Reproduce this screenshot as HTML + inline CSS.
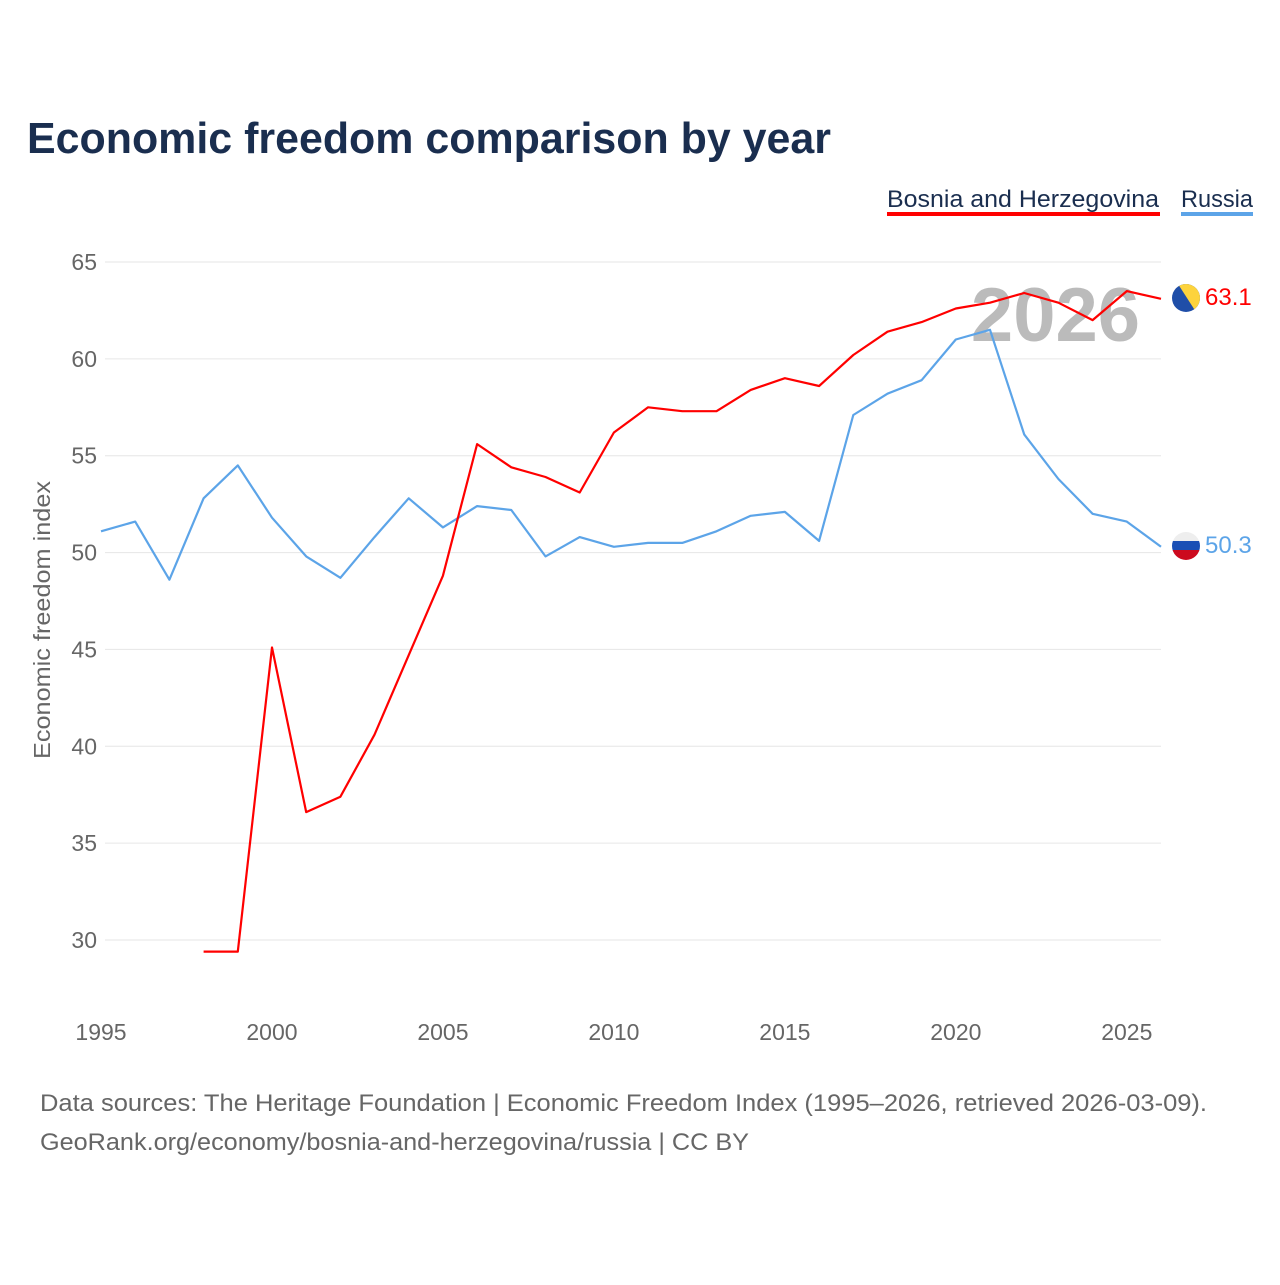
<!DOCTYPE html>
<html><head><meta charset="utf-8"><style>
body{margin:0;background:#fff;font-family:"Liberation Sans",sans-serif}
</style></head><body>
<svg id="c" width="1280" height="1280" xmlns="http://www.w3.org/2000/svg">
<text x="27" y="153" font-size="44" font-weight="bold" fill="#1a2e4f" textLength="804" lengthAdjust="spacingAndGlyphs">Economic freedom comparison by year</text>
<g>
<text x="887" y="207" font-size="24" fill="#1a2e4f" textLength="272" lengthAdjust="spacingAndGlyphs">Bosnia and Herzegovina</text>
<rect x="887" y="212" width="273" height="4" fill="#ff0000"/>
<text x="1181" y="207" font-size="24" fill="#1a2e4f" textLength="72" lengthAdjust="spacingAndGlyphs">Russia</text>
<rect x="1181" y="212" width="72" height="4" fill="#5ca4e8"/>
</g>
<text x="1140" y="341" font-size="76" font-weight="bold" fill="#bbbbbb" text-anchor="end">2026</text>
<g id="grid"></g><g id="lines"></g>
<text transform="translate(50,620) rotate(-90)" font-size="23" fill="#666" text-anchor="middle" textLength="278" lengthAdjust="spacingAndGlyphs">Economic freedom index</text>
<text x="40" y="1111" font-size="24" fill="#666" textLength="1167" lengthAdjust="spacingAndGlyphs">Data sources: The Heritage Foundation | Economic Freedom Index (1995–2026, retrieved 2026-03-09).</text>
<text x="40" y="1150" font-size="24" fill="#666" textLength="709" lengthAdjust="spacingAndGlyphs">GeoRank.org/economy/bosnia-and-herzegovina/russia | CC BY</text>
<defs>
<clipPath id="fb"><circle cx="1186" cy="298" r="14"/></clipPath>
<clipPath id="fr"><circle cx="1186" cy="546" r="14"/></clipPath>
</defs>
<g clip-path="url(#fb)">
<rect x="1172" y="284" width="28" height="28" fill="#1f4ea8"/>
<polygon points="1178,284 1200,284 1200,312 1196,312" fill="#fdd33c"/>
</g>
<g clip-path="url(#fr)">
<rect x="1172" y="532" width="28" height="10" fill="#eeeeee"/>
<rect x="1172" y="541" width="28" height="10" fill="#1a4fb5"/>
<rect x="1172" y="550" width="28" height="10" fill="#cc0a1e"/>
</g>
<text x="1205" y="305" font-size="24" fill="#ff0000">63.1</text>
<text x="1205" y="553" font-size="24" fill="#5ca4e8">50.3</text>
</svg>
<script>
const years=[1995,1996,1997,1998,1999,2000,2001,2002,2003,2004,2005,2006,2007,2008,2009,2010,2011,2012,2013,2014,2015,2016,2017,2018,2019,2020,2021,2022,2023,2024,2025,2026];
const russia=[51.1,51.6,48.6,52.8,54.5,51.8,49.8,48.7,50.8,52.8,51.3,52.4,52.2,49.8,50.8,50.3,50.5,50.5,51.1,51.9,52.1,50.6,57.1,58.2,58.9,61.0,61.5,56.1,53.8,52.0,51.6,50.3];
const bosnia=[null,null,null,29.4,29.4,45.1,36.6,37.4,40.6,44.7,48.8,55.6,54.4,53.9,53.1,56.2,57.5,57.3,57.3,58.4,59.0,58.6,60.2,61.4,61.9,62.6,62.9,63.4,62.9,62.0,63.5,63.1];
const yTicks=[30,35,40,45,50,55,60,65];
const xTicks=[1995,2000,2005,2010,2015,2020,2025];
const NS='http://www.w3.org/2000/svg';
const X=y=>101+(y-1995)*(1060/31);
const Y=v=>940-(v-30)*(678/35);
const grid=document.getElementById('grid'),lines=document.getElementById('lines');
function mk(t,a,p){const e=document.createElementNS(NS,t);for(const k in a)e.setAttribute(k,a[k]);p.appendChild(e);return e;}
yTicks.forEach(v=>{
 const l=mk('line',{x1:105,x2:1161,y1:Y(v),y2:Y(v),stroke:'#e6e6e6','stroke-width':1},grid);
 
 
 const t=mk('text',{x:97,y:Y(v)+8,'font-size':23,fill:'#666','text-anchor':'end'},grid);
 t.textContent=v;
 
 
});
xTicks.forEach(v=>{
 const t=mk('text',{x:X(v),y:1040,'font-size':23,fill:'#666','text-anchor':'middle'},grid);
 t.textContent=v;
 
 
});
function path(vals,color,name){
 let d='';vals.forEach((v,i)=>{if(v==null)return;d+=(d?'L':'M')+X(years[i]).toFixed(1)+','+Y(v).toFixed(1);});
 const p=mk('path',{d:d,fill:'none',stroke:color,'stroke-width':2.2,'stroke-linejoin':'round'},lines);
 
 
}
path(russia,'#5ca4e8','russia-line');
path(bosnia,'#ff0000','bosnia-line');
</script>
</body></html>
